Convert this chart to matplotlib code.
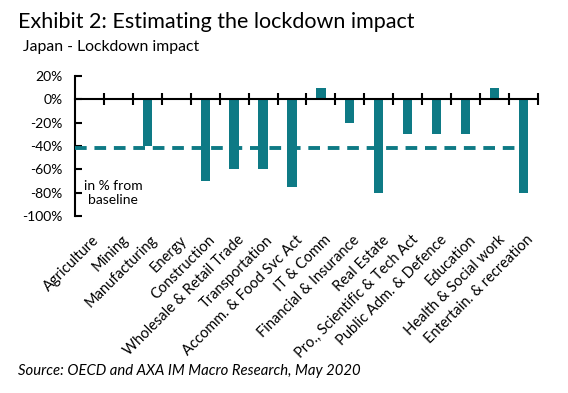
import matplotlib
matplotlib.use("Agg")
import matplotlib.pyplot as plt
import matplotlib.transforms as mtransforms
import numpy as np

categories = ["Agriculture", "Mining", "Manufacturing", "Energy", "Construction",
              "Wholesale & Retail Trade", "Transportation", "Accomm. & Food Svc Act",
              "IT & Comm", "Financial & Insurance", "Real Estate",
              "Pro., Scientific & Tech Act", "Public Adm. & Defence", "Education",
              "Health & Social work", "Entertain. & recreation"]
impact = [0, 0, -40, 0, -70, -60, -60, -75, 10, -20, -80, -30, -30, -30, 10, -80]
average = -41.5
yticks = [20, 0, -20, -40, -60, -80, -100]
ytick_labels = ["20%", "0%", "-20%", "-40%", "-60%", "-80%", "-100%"]

plt.rcParams['font.family'] = ['Lato', 'DejaVu Sans']
teal = "#0E7A85"

fig = plt.figure(figsize=(5.68, 3.93), dpi=100)
ax = fig.add_axes([0.132, 0.450, 0.815, 0.357])

x = np.arange(len(categories))
ax.bar(x, impact, width=0.32, color=teal, zorder=2)
ax.plot([-0.5, len(categories) - 1], [average, average], color=teal, lw=2.8,
        dashes=(3, 2), zorder=3)

ax.set_xlim(-0.5, len(categories) - 0.5)
ax.set_ylim(-100, 20)
ax.set_yticks(yticks, ytick_labels)
ax.tick_params(axis='y', direction='in', length=5, width=1.5, labelsize=10, pad=9)

for s in ['top', 'right']:
    ax.spines[s].set_visible(False)
ax.spines['left'].set_linewidth(1.5)
ax.spines['bottom'].set_position(('data', 0))
ax.spines['bottom'].set_linewidth(1.5)
ax.spines['bottom'].set_zorder(4)
ax.set_xticks(x)
ax.set_xticklabels([])
ax.tick_params(axis='x', which='major', length=0)
ax.set_xticks(np.arange(-0.5, len(categories) + 0.5, 1)[1:], minor=True)
ax.tick_params(axis='x', which='minor', direction='inout', length=9, width=1.5)

sec = ax.secondary_xaxis(0)
sec.set_xticks(x, categories, rotation=45, ha='right', va='top',
               rotation_mode='anchor', fontsize=10.5)
sec.tick_params(length=0, pad=12)
sec.spines['bottom'].set_visible(False)
offset = mtransforms.ScaledTranslation(3 / 100, 0, fig.dpi_scale_trans)
for lbl in sec.get_xticklabels():
    lbl.set_transform(lbl.get_transform() + offset)

ax.text(0.082, -80, "in % from\nbaseline", fontsize=10, ha='center', va='center',
        transform=mtransforms.blended_transform_factory(ax.transAxes, ax.transData),
        linespacing=1.25)

fig.text(18 / 568, 1 - 22 / 393, "Exhibit 2: Estimating the lockdown impact",
         fontsize=15.5, ha='left', va='center')
fig.text(23 / 568, 1 - 47 / 393, "Japan - Lockdown impact", fontsize=11.3,
         ha='left', va='center')
fig.text(18 / 568, 1 - 371 / 393, "Source: OECD and AXA IM Macro Research, May 2020",
         fontsize=10.7, style='italic', ha='left', va='center')

fig.savefig("out.png", dpi=100)
